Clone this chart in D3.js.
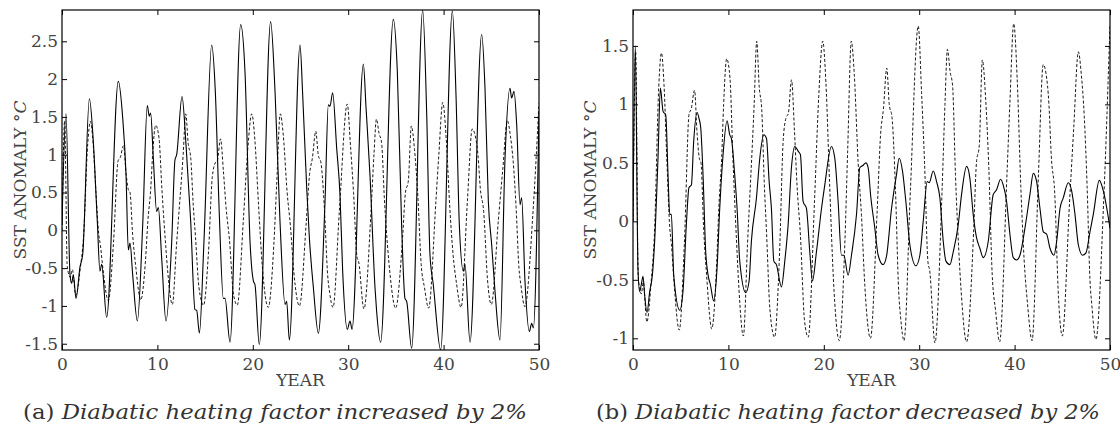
<!DOCTYPE html>
<html>
<head>
<meta charset="utf-8">
<script src="https://cdn.jsdelivr.net/npm/d3@7"></script>
<style>
  body { margin: 0; background: #fff; }
  svg { display: block; }
</style>
</head>
<body>
<svg id="chart" width="1120" height="429"></svg>
<script>
// ---- data (year, SST anomaly in deg C) ----
const xTicks = [0, 10, 20, 30, 40, 50];
const yTicksA = [-1.5, -1, -0.5, 0, 0.5, 1, 1.5, 2, 2.5];
const yTicksB = [-1, -0.5, 0, 0.5, 1, 1.5];

// control run (dashed, same in both panels)
const control = [
  [0,0],[0.28,1.45],[0.55,-0.48],[0.87,-0.62],[1.08,-0.52],[1.45,-0.86],[1.92,-0.50],[2.25,-0.1],
  [2.7,1.15],[2.98,1.44],[3.25,1.17],[3.56,0.5],[3.85,-0.05],[4.03,-0.2],[4.3,-0.52],[4.85,-0.93],
  [5.40,-0.16],[5.88,0.92],[6.10,0.96],[6.45,1.12],[6.72,0.75],[6.95,0.54],[7.13,0.50],[7.4,-0.05],
  [7.75,-0.5],[8.1,-0.86],[8.25,-0.92],[8.75,-0.4],[9.0,0.12],[9.3,0.55],[9.5,1.0],[9.82,1.39],
  [10.17,1.22],[10.47,0.55],[10.87,-0.2],[11.1,-0.57],[11.57,-0.98],[12.0,-0.2],[12.7,1.0],[12.97,1.54],
  [13.23,1.15],[13.5,0.95],[13.75,0.35],[14.0,-0.1],[14.35,-0.75],[14.84,-0.99],[15.35,-0.3],[15.75,0.7],
  [16.06,0.89],[16.28,0.92],[16.62,1.21],[16.92,0.78],[17.2,0.3],[17.55,-0.12],[17.98,-0.85],[18.37,-0.99],
  [19.03,0.18],[19.47,1.07],[19.89,1.54],[20.22,1.19],[20.6,0.34],[21.0,-0.48],[21.62,-1.02],[22.2,-0.2],
  [22.5,0.6],[22.88,1.54],[23.2,1.25],[23.6,0.5],[23.95,0.05],[24.3,-0.55],[24.89,-1.0],[25.6,0.1],
  [25.95,0.74],[26.25,0.96],[26.6,1.31],[26.86,1.0],[27.15,0.89],[27.5,0.3],[27.85,-0.6],[28.05,-0.82],
  [28.41,-1.02],[29.08,0.27],[29.9,1.67],[30.25,1.1],[30.56,0.5],[30.92,-0.35],[31.1,-0.42],[31.65,-1.04],
  [32.4,0.27],[32.7,1.0],[32.96,1.47],[33.24,1.28],[33.5,1.16],[33.8,0.4],[34.15,-0.25],[34.4,-0.6],
  [34.97,-1.03],[35.7,-0.1],[36.0,0.50],[36.3,0.65],[36.62,1.38],[36.95,1.07],[37.3,0.45],[37.65,-0.45],
  [38.0,-0.76],[38.43,-1.03],[39.2,0.4],[39.5,1.0],[39.91,1.69],[40.27,1.22],[40.65,0.3],[41.0,-0.33],
  [41.35,-0.70],[41.83,-1.02],[42.5,0.4],[43.0,1.34],[43.3,1.26],[43.6,1.0],[43.85,0.55],[44.2,0.25],
  [44.6,-0.65],[45.0,-0.98],[45.75,0.15],[46.2,0.8],[46.68,1.45],[47.0,1.25],[47.3,0.9],[47.6,0.3],
  [47.9,-0.5],[48.1,-0.72],[48.52,-1.01],[49.35,0.2],[50,1.68]
];

// diabatic heating factor +2% (solid, panel a)
const raisedHeating = [
  [0,0.07],[0.42,1.54],[0.84,-0.59],[1.01,-0.70],[1.19,-0.59],[1.47,-0.90],[1.89,-0.48],[2.17,-0.32],
  [2.87,1.74],[3.28,1.18],[3.70,0.12],[3.98,-0.54],[4.16,-0.45],[4.68,-1.15],[5.90,1.97],[6.36,1.49],
  [6.71,0.74],[6.95,-0.26],[7.13,-0.17],[7.41,-0.59],[7.90,-1.20],[8.46,0.07],[8.94,1.65],[9.15,1.51],
  [9.29,1.55],[9.57,0.96],[9.92,0.25],[10.10,0.30],[10.45,-0.37],[10.90,-1.20],[11.50,-0.15],[11.84,0.93],
  [12.02,1.00],[12.58,1.77],[13.00,1.13],[13.49,0.12],[13.94,-1.05],[14.12,-1.06],[14.40,-1.36],[14.88,-0.15],
  [15.69,2.45],[16.07,1.84],[16.49,0.21],[16.91,-0.90],[17.09,-0.90],[17.61,-1.48],[18.73,2.72],[19.18,2.10],
  [19.71,-0.15],[20.06,-0.67],[20.23,-0.72],[20.68,-1.51],[21.87,2.76],[22.33,1.84],[22.85,0.12],[23.38,-0.98],
  [23.55,-0.94],[23.83,-1.45],[24.95,2.45],[25.23,1.79],[25.65,0.56],[25.93,-0.10],[26.35,-0.76],[26.87,-1.36],
  [27.57,0.38],[27.92,1.66],[28.09,1.64],[28.37,1.82],[28.79,1.09],[29.14,0.47],[29.42,-0.54],[29.91,-1.31],
  [30.19,-1.20],[30.40,-1.31],[31.59,2.20],[31.87,1.62],[32.28,0.74],[32.81,-0.76],[32.98,-1.07],[33.40,-1.48],
  [34.73,2.79],[35.15,2.10],[35.60,0.07],[35.95,-0.90],[36.13,-0.94],[36.65,-1.56],[37.81,2.91],[38.23,1.53],
  [38.57,-0.32],[38.92,-0.72],[39.69,-1.58],[40.92,2.90],[41.30,1.79],[41.65,0.07],[42.07,-0.54],[42.24,-0.45],
  [42.77,-1.48],[43.99,2.59],[44.34,1.88],[44.69,0.38],[45.04,-0.19],[45.39,-0.81],[45.91,-1.45],[46.44,0.96],
  [46.96,1.88],[47.13,1.75],[47.38,1.84],[47.66,1.40],[48.01,0.34],[48.18,0.43],[48.53,-0.67],[48.99,-1.34],
  [49.23,-1.23],[49.41,-1.29],[50,1.57]
];

// diabatic heating factor -2% (solid, panel b)
const loweredHeating = [
  [0,0],[0.24,1.50],[0.52,-0.40],[0.70,-0.60],[0.87,-0.54],[1.05,-0.47],[1.22,-0.63],[1.47,-0.78],
  [1.75,-0.60],[2.03,-0.46],[2.27,-0.17],[2.62,0.54],[2.87,1.14],[3.15,0.94],[3.43,0.91],[3.67,0.40],
  [3.85,0.06],[4.02,0.06],[4.27,-0.46],[4.90,-0.76],[5.24,-0.60],[5.59,-0.03],[5.87,0.29],[6.12,0.31],
  [6.36,0.68],[6.71,0.93],[6.92,0.88],[7.10,0.80],[7.34,0.40],[7.62,-0.26],[7.87,-0.46],[8.11,-0.54],
  [8.46,-0.68],[8.81,-0.40],[9.09,0.11],[9.44,0.57],[9.86,0.86],[10.14,0.74],[10.31,0.71],[10.66,0.40],
  [10.91,0.11],[11.19,-0.34],[11.82,-0.61],[12.17,-0.51],[12.41,-0.17],[12.94,0.20],[13.29,0.54],[13.71,0.74],
  [13.99,0.71],[14.27,0.34],[14.51,0.11],[14.76,-0.34],[15.03,-0.37],[15.56,-0.56],[15.91,-0.34],[16.26,-0.03],
  [16.61,0.46],[16.96,0.64],[17.31,0.60],[17.55,0.57],[17.83,0.17],[18.18,0.11],[18.53,-0.26],[18.81,-0.51],
  [19.23,-0.26],[19.76,0.11],[20.10,0.31],[20.80,0.64],[21.15,0.54],[21.50,0.17],[21.85,-0.29],[22.10,-0.29],
  [22.55,-0.46],[22.90,-0.29],[23.43,0.06],[23.78,0.46],[24.13,0.48],[24.41,0.50],[24.65,0.46],[24.90,0.23],
  [25.35,-0.06],[25.70,-0.29],[26.22,-0.37],[26.57,-0.30],[27.10,0.11],[27.62,0.40],[27.90,0.54],[28.25,0.43],
  [28.60,0.17],[29.02,-0.20],[29.65,-0.38],[30.07,-0.29],[30.42,0.00],[30.84,0.34],[31.05,0.33],[31.47,0.43],
  [31.82,0.34],[32.17,0.20],[32.52,-0.17],[32.80,-0.34],[33.22,-0.37],[33.57,-0.26],[34.09,-0.03],[34.44,0.23],
  [34.97,0.47],[35.31,0.37],[35.66,0.06],[36.01,-0.14],[36.36,-0.23],[36.71,-0.31],[37.24,-0.17],[37.76,0.23],
  [38.11,0.27],[38.53,0.36],[38.81,0.31],[39.16,0.17],[39.51,-0.11],[39.86,-0.31],[40.21,-0.33],[40.56,-0.29],
  [41.08,-0.06],[41.61,0.23],[41.96,0.41],[42.31,0.34],[42.66,0.11],[43.01,-0.09],[43.36,-0.11],[43.71,-0.23],
  [44.13,-0.29],[44.41,-0.17],[44.76,0.11],[45.10,0.20],[45.63,0.33],[45.98,0.26],[46.33,0.06],[46.68,-0.20],
  [47.13,-0.29],[47.48,-0.27],[47.90,-0.09],[48.25,0.06],[48.88,0.35],[49.30,0.26],[50,-0.06]
];

// ---- layout ----
const svg = d3.select("#chart");
const font = "'DejaVu Serif', serif";

const panels = [
  { id: "a", left: 62, right: 539, top: 10, bottom: 350, yDomain: [-1.583, 2.914], yTicks: yTicksA,
    series: raisedHeating, ylabX: 26, capX: 23, tag: "(a) ", caption: "Diabatic heating factor increased by 2%" },
  { id: "b", left: 633, right: 1110, top: 10, bottom: 350, yDomain: [-1.10, 1.807], yTicks: yTicksB,
    series: loweredHeating, ylabX: 596, capX: 596, tag: "(b) ", caption: "Diabatic heating factor decreased by 2%" }
];

const tickLen = 5;

panels.forEach(p => {
  const x = d3.scaleLinear().domain([0, 50]).range([p.left, p.right]);
  const y = d3.scaleLinear().domain(p.yDomain).range([p.bottom, p.top]);
  const g = svg.append("g");

  // clip the curves to the box
  svg.append("clipPath").attr("id", "clip-" + p.id)
    .append("rect")
    .attr("x", p.left).attr("y", p.top)
    .attr("width", p.right - p.left).attr("height", p.bottom - p.top);

  const line = d3.line()
    .x(d => x(d[0]))
    .y(d => y(d[1]))
    .curve(d3.curveMonotoneX);

  const lines = g.append("g").attr("clip-path", `url(#clip-${p.id})`);

  lines.append("path")
    .datum(control)
    .attr("d", line)
    .attr("fill", "none")
    .attr("stroke", "#000")
    .attr("stroke-width", 0.9)
    .attr("stroke-dasharray", "3,2");

  lines.append("path")
    .datum(p.series)
    .attr("d", line)
    .attr("fill", "none")
    .attr("stroke", "#000")
    .attr("stroke-width", 1.1);

  // axes, ticks pointing inwards on all four sides
  g.append("g")
    .attr("transform", `translate(0,${p.bottom})`)
    .call(d3.axisBottom(x).tickValues(xTicks).tickSize(-tickLen).tickPadding(8).tickFormat(d => String(d)));
  g.append("g")
    .attr("transform", `translate(0,${p.top})`)
    .call(d3.axisTop(x).tickValues(xTicks).tickSize(-tickLen).tickFormat(""));
  g.append("g")
    .attr("transform", `translate(${p.left},0)`)
    .call(d3.axisLeft(y).tickValues(p.yTicks).tickSize(-tickLen).tickPadding(4).tickFormat(d => String(d)));
  g.append("g")
    .attr("transform", `translate(${p.right},0)`)
    .call(d3.axisRight(y).tickValues(p.yTicks).tickSize(-tickLen).tickFormat(""));

  g.selectAll(".domain").remove();
  g.selectAll(".tick line").attr("stroke", "#000").attr("stroke-width", 1);
  g.selectAll(".tick text")
    .attr("fill", "#444")
    .style("font-family", font)
    .style("font-size", "17px");

  // frame
  g.append("rect")
    .attr("x", p.left).attr("y", p.top)
    .attr("width", p.right - p.left).attr("height", p.bottom - p.top)
    .attr("fill", "none")
    .attr("stroke", "#000")
    .attr("stroke-width", 1.2);

  // axis titles
  g.append("text")
    .attr("x", (p.left + p.right) / 2)
    .attr("y", 386)
    .attr("text-anchor", "middle")
    .attr("fill", "#444")
    .style("font-family", font)
    .style("font-size", "17px")
    .text("YEAR");

  const yl = g.append("text")
    .attr("transform", `translate(${p.ylabX},${(p.top + p.bottom) / 2}) rotate(-90)`)
    .attr("text-anchor", "middle")
    .attr("fill", "#444")
    .style("font-family", font)
    .style("font-size", "17px");
  yl.append("tspan").text("SST ANOMALY \u00B0");
  yl.append("tspan").style("font-style", "italic").text("C");

  // caption
  const cap = g.append("text")
    .attr("x", p.capX)
    .attr("y", 419)
    .attr("fill", "#333")
    .attr("textLength", 504)
    .attr("lengthAdjust", "spacingAndGlyphs")
    .style("font-family", font)
    .style("font-size", "20px");
  cap.append("tspan").text(p.tag);
  cap.append("tspan").style("font-style", "italic").text(p.caption);
});
</script>
</body>
</html>
